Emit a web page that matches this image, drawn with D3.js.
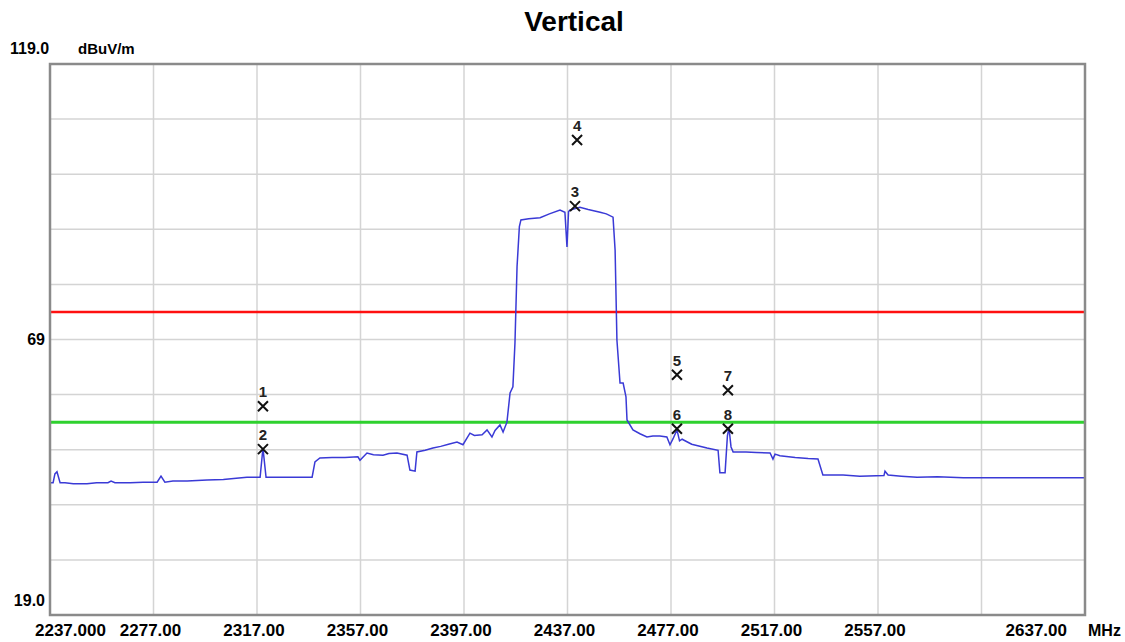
<!DOCTYPE html>
<html><head><meta charset="utf-8">
<script src="https://cdn.jsdelivr.net/npm/d3@7"></script>
<style>
html,body{margin:0;padding:0;background:#fff;}
text{font-family:"Liberation Sans",Arial,sans-serif;}
</style></head>
<body><svg id="c" width="1125" height="642"></svg>
<script>
// ---- data ----
const title = "Vertical";
const xTicks = [2237, 2277, 2317, 2357, 2397, 2437, 2477, 2517, 2557, 2597, 2637];
const xTickLabels = ["2237.000","2277.00","2317.00","2357.00","2397.00","2437.00","2477.00","2517.00","2557.00","","2637.00"];
const yGrid = [19, 29, 39, 49, 59, 69, 79, 89, 99, 109, 119];
const yTickLabels = [[119, "119.0"], [69, "69"], [19, "19.0"]];
const limitPeak = 74;
const limitAvg = 54;
const traceFreq = [2237,2238.2,2238.9,2239.7,2240.9,2242.8,2246,2251.3,2255,2259.4,2260.6,2262.1,2268,2273,2278.4,2279.9,2281.4,2284.5,2290,2297.7,2304,2309,2313.1,2318.2,2319.3,2320.5,2323.2,2330,2336.7,2338.3,2339.4,2341.3,2346,2351,2356,2356.8,2359.5,2362,2365.7,2368,2371.1,2375,2376.1,2378.1,2378.8,2382,2385,2388,2391,2394.3,2396.6,2399.3,2401,2404,2405.9,2407.8,2409,2410.9,2412.1,2413.6,2414.8,2415.9,2416.7,2417.5,2418.4,2419,2422,2426.4,2430,2434.1,2436,2436.8,2437.4,2438,2441.8,2445,2449.6,2452,2454.6,2455.4,2456.1,2457.3,2458.5,2459.6,2460,2462.3,2465,2467.7,2470,2472.7,2475.4,2476.6,2477.8,2479.3,2480.3,2481.3,2485,2490.9,2495.2,2495.9,2497.9,2498.8,2499.4,2500.2,2501,2506,2510,2515.3,2516.4,2517.2,2519.1,2525,2530,2533.8,2535.7,2543.5,2550,2559.3,2559.7,2560.9,2566,2572.1,2580,2590,2597.6,2605,2615,2625,2637];
const traceLevel = [43.0,43.0,44.6,45.0,43.0,43.0,42.8,42.8,43.0,43.0,43.3,43.0,43.0,43.1,43.1,44.2,43.1,43.3,43.3,43.5,43.6,43.8,44.0,44.0,49.3,44.0,44.0,44.0,44.0,44.0,46.8,47.5,47.6,47.6,47.7,47.1,48.4,48.1,48.0,48.3,48.4,48.0,45.3,45.1,48.6,48.9,49.3,49.6,50.0,50.4,49.9,52.0,51.6,51.7,52.6,51.3,52.5,53.5,52.2,54.0,59.3,60.4,68.4,82.2,89.5,90.7,90.9,91.1,91.8,92.5,92.1,85.8,92.2,92.5,93.0,92.6,92.1,91.8,91.2,85.2,68.9,61.1,61.1,58.6,54.4,52.6,51.9,51.3,51.5,51.5,51.3,49.9,51.0,52.6,50.6,50.9,50.0,49.3,48.9,44.8,44.8,51.5,53.0,49.5,48.6,48.6,48.5,48.4,47.3,48.2,47.9,47.6,47.4,47.3,44.4,44.4,44.2,44.3,45.1,44.4,44.2,44.0,44.1,43.9,43.9,43.9,43.9,43.9,43.9];
const markerIds = ["1","2","3","4","5","6","7","8"];
const markerFreq = [2319.3, 2319.3, 2439.9, 2440.7, 2479.3, 2479.3, 2499.0, 2499.0];
const markerLevel = [56.9, 49.1, 93.2, 105.2, 62.6, 52.8, 59.8, 52.8];

// ---- drawing ----
const svg = d3.select("#c");
const L = 50, R = 1085, T = 64, B = 615;
const x = d3.scaleLinear().domain([2237, 2637]).range([L, R]);
const y = d3.scaleLinear().domain([19, 119]).range([B, T]);

svg.append("text").attr("x", 574).attr("y", 31).attr("text-anchor", "middle")
  .attr("font-size", 28).attr("font-weight", "bold").text(title);

// grid
svg.append("g").selectAll("line").data(xTicks.slice(1, -1)).join("line")
  .attr("x1", d => x(d)).attr("x2", d => x(d)).attr("y1", T).attr("y2", B)
  .attr("stroke", "#d4d4d4").attr("stroke-width", 1.5);
svg.append("g").selectAll("line").data(yGrid.slice(1, -1)).join("line")
  .attr("x1", L).attr("x2", R).attr("y1", d => y(d)).attr("y2", d => y(d))
  .attr("stroke", "#d4d4d4").attr("stroke-width", 1.5);

// limit lines
svg.append("line").attr("x1", L).attr("x2", R).attr("y1", y(limitPeak)).attr("y2", y(limitPeak))
  .attr("stroke", "#ff1010").attr("stroke-width", 2.5);
svg.append("line").attr("x1", L).attr("x2", R).attr("y1", y(limitAvg)).attr("y2", y(limitAvg))
  .attr("stroke", "#2ed12e").attr("stroke-width", 3);

// trace
const pts = traceFreq.map((f, i) => [f, traceLevel[i]]);
svg.append("path").datum(pts)
  .attr("d", d3.line().x(d => x(d[0])).y(d => y(d[1])))
  .attr("fill", "none").attr("stroke", "#3a3ad6").attr("stroke-width", 1.5);

// frame
svg.append("rect").attr("x", L).attr("y", T).attr("width", R - L).attr("height", B - T)
  .attr("fill", "none").attr("stroke", "#8a8a8a").attr("stroke-width", 2.5);

// markers
const mk = svg.append("g");
markerIds.forEach((id, i) => {
  const cx = x(markerFreq[i]), cy = y(markerLevel[i]);
  const s = 5;
  mk.append("path").attr("d", `M${cx - s},${cy - s}L${cx + s},${cy + s}M${cx - s},${cy + s}L${cx + s},${cy - s}`)
    .attr("stroke", "#111").attr("stroke-width", 2);
  mk.append("text").attr("x", cx).attr("y", cy - 9).attr("text-anchor", "middle")
    .attr("font-size", 15).attr("font-weight", "bold").attr("fill", "#222").text(id);
});

// axis labels
svg.append("text").attr("x", 10).attr("y", 54).attr("font-size", 16).attr("font-weight", "bold").text("119.0");
svg.append("text").attr("x", 78).attr("y", 54).attr("font-size", 15).attr("font-weight", "bold").text("dBuV/m");
svg.append("text").attr("x", 45).attr("y", y(69) + 5).attr("text-anchor", "end")
  .attr("font-size", 16).attr("font-weight", "bold").text(yTickLabels[1][1]);
svg.append("text").attr("x", 45).attr("y", y(19) - 9).attr("text-anchor", "end")
  .attr("font-size", 16).attr("font-weight", "bold").text(yTickLabels[2][1]);

svg.append("g").selectAll("text").data(xTicks.map((t, i) => [t, xTickLabels[i]]).filter(d => d[1] !== "")).join("text")
  .attr("x", d => d[0] === 2637 ? x(d[0]) - 18 : d[0] === 2237 ? x(d[0]) - 15 : x(d[0]) - 3)
  .attr("y", 636).attr("text-anchor", d => d[0] === 2637 ? "end" : d[0] === 2237 ? "start" : "middle")
  .attr("font-size", 17).attr("font-weight", "bold").text(d => d[1]);
svg.append("text").attr("x", 1088).attr("y", 636).attr("font-size", 16).attr("font-weight", "bold").text("MHz");
</script></body></html>
